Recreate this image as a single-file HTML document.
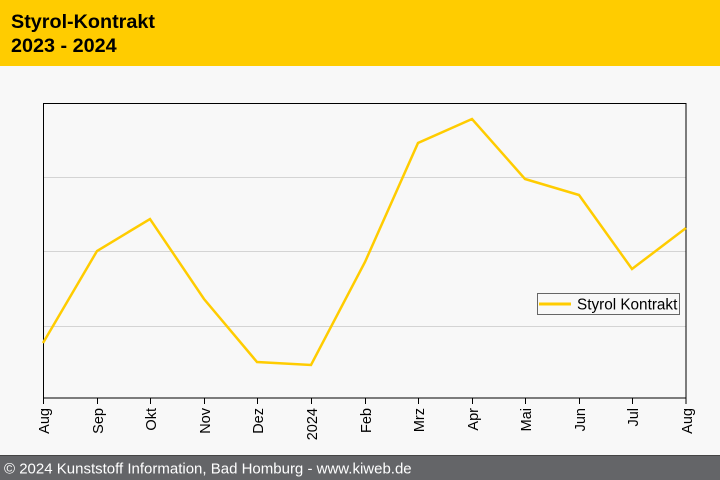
<!DOCTYPE html>
<html><head><meta charset="utf-8"><style>
html,body{margin:0;padding:0;background:#f8f8f8;}
svg{display:block;}
</style></head><body>
<svg width="720" height="480" viewBox="0 0 720 480" xmlns="http://www.w3.org/2000/svg" font-family="Liberation Sans, Arial, sans-serif">
<rect x="0" y="0" width="720" height="480" fill="#f8f8f8"/>
<rect x="0" y="0" width="720" height="66" fill="#ffcc00"/>
<text x="11" y="28" font-size="19.8" font-weight="bold" fill="#000">Styrol-Kontrakt</text>
<text x="11" y="52" font-size="19.8" font-weight="bold" fill="#000">2023 - 2024</text>
<g stroke="#d4d4d4" stroke-width="1">
<line x1="43" y1="177.5" x2="686" y2="177.5"/>
<line x1="43" y1="251.5" x2="686" y2="251.5"/>
<line x1="43" y1="326.5" x2="686" y2="326.5"/>
</g>
<rect x="43.5" y="103.5" width="642.5" height="294.5" fill="none" stroke="#000" stroke-width="1"/>
<g stroke="#000" stroke-width="1">
<line x1="43.5" y1="398" x2="43.5" y2="404"/><line x1="97.5" y1="398" x2="97.5" y2="404"/><line x1="150.5" y1="398" x2="150.5" y2="404"/><line x1="204.5" y1="398" x2="204.5" y2="404"/><line x1="257.5" y1="398" x2="257.5" y2="404"/><line x1="311.5" y1="398" x2="311.5" y2="404"/><line x1="365.5" y1="398" x2="365.5" y2="404"/><line x1="418.5" y1="398" x2="418.5" y2="404"/><line x1="472.5" y1="398" x2="472.5" y2="404"/><line x1="525.5" y1="398" x2="525.5" y2="404"/><line x1="579.5" y1="398" x2="579.5" y2="404"/><line x1="632.5" y1="398" x2="632.5" y2="404"/><line x1="686" y1="398" x2="686" y2="404"/>
</g>
<g font-size="14.5" fill="#000" text-anchor="end">
<text transform="translate(49,408) rotate(-90)">Aug</text>
<text transform="translate(103,408) rotate(-90)">Sep</text>
<text transform="translate(156,408) rotate(-90)">Okt</text>
<text transform="translate(210,408) rotate(-90)">Nov</text>
<text transform="translate(263,408) rotate(-90)">Dez</text>
<text transform="translate(317,408) rotate(-90)">2024</text>
<text transform="translate(371,408) rotate(-90)">Feb</text>
<text transform="translate(424,408) rotate(-90)">Mrz</text>
<text transform="translate(478,408) rotate(-90)">Apr</text>
<text transform="translate(531,408) rotate(-90)">Mai</text>
<text transform="translate(585,408) rotate(-90)">Jun</text>
<text transform="translate(638,408) rotate(-90)">Jul</text>
<text transform="translate(692,408) rotate(-90)">Aug</text>
</g>
<polyline fill="none" stroke="#ffcc00" stroke-width="2.5" stroke-linejoin="miter" points="43,343 97,251 150,219 204,299 257,362 311,365 365,262 418,143 472,119 525,179 579,195 632,269 686,228"/>
<rect x="537.5" y="293.5" width="142" height="21" fill="#f8f8f8" stroke="#666" stroke-width="1"/>
<line x1="539" y1="304" x2="571" y2="304" stroke="#ffcc00" stroke-width="3"/>
<text x="577" y="309.5" font-size="15.3" fill="#000">Styrol Kontrakt</text>
<rect x="0" y="455" width="720" height="25" fill="#646568"/>
<line x1="0" y1="455.5" x2="720" y2="455.5" stroke="#444" stroke-width="1"/>
<text x="4" y="473.5" font-size="15" fill="#fff">© 2024 Kunststoff Information, Bad Homburg - www.kiweb.de</text>
</svg>
</body></html>
